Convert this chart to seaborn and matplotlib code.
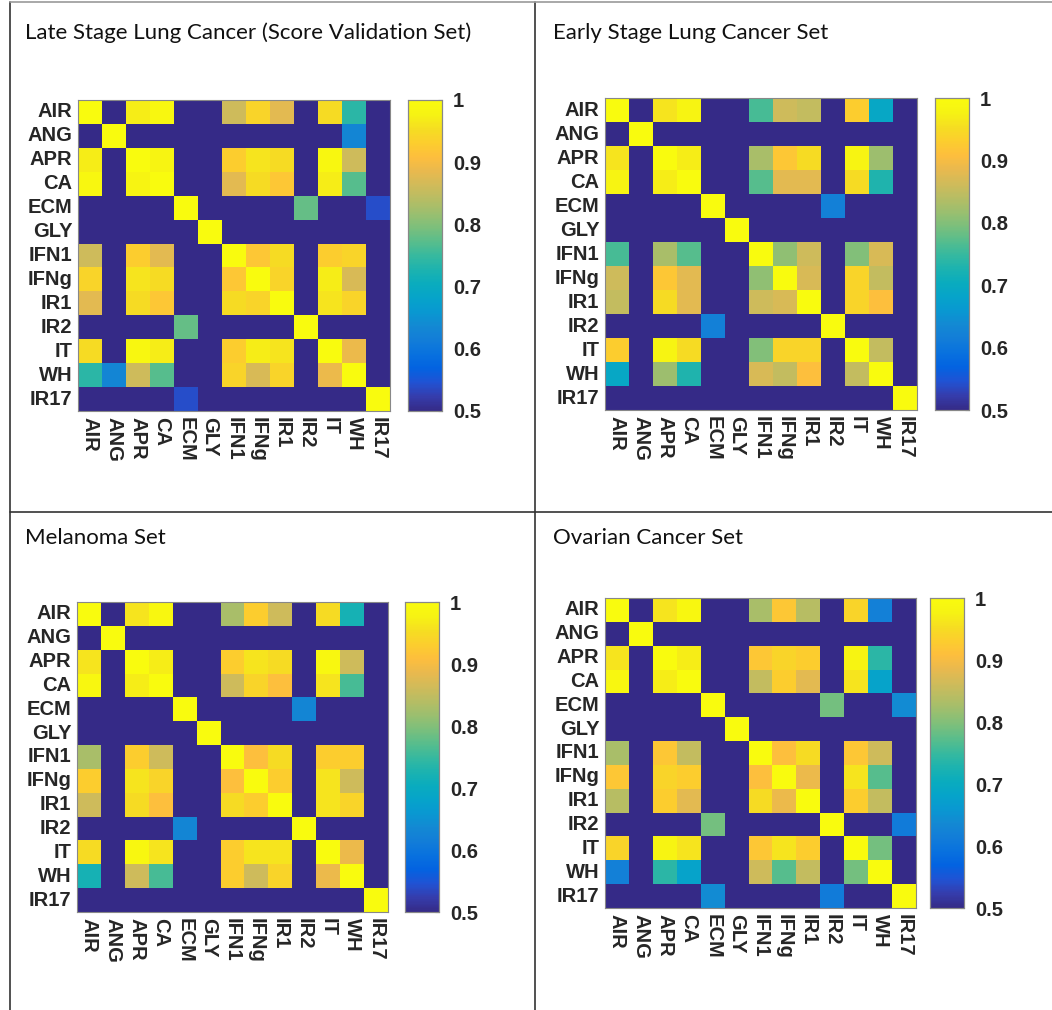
import numpy as np
import pandas as pd
import matplotlib
matplotlib.use('Agg')
import matplotlib.pyplot as plt
from matplotlib.colors import LinearSegmentedColormap
from matplotlib.lines import Line2D
import seaborn as sns

# ── Data ──
labels = ['AIR', 'ANG', 'APR', 'CA', 'ECM', 'GLY', 'IFN1', 'IFNg', 'IR1', 'IR2', 'IT', 'WH', 'IR17']

late_stage = [
    [1, .5, .97, .99, .5, .5, .86, .94, .88, .5, .95, .74, .5],
    [.5, 1, .5, .5, .5, .5, .5, .5, .5, .5, .5, .63, .5],
    [.97, .5, 1, .98, .5, .5, .93, .96, .95, .5, .99, .86, .5],
    [.99, .5, .98, 1, .5, .5, .88, .95, .92, .5, .97, .77, .5],
    [.5, .5, .5, .5, 1, .5, .5, .5, .5, .78, .5, .5, .54],
    [.5, .5, .5, .5, .5, 1, .5, .5, .5, .5, .5, .5, .5],
    [.86, .5, .93, .88, .5, .5, 1, .92, .95, .5, .93, .94, .5],
    [.94, .5, .96, .95, .5, .5, .92, 1, .94, .5, .97, .87, .5],
    [.88, .5, .95, .92, .5, .5, .95, .94, 1, .5, .96, .94, .5],
    [.5, .5, .5, .5, .78, .5, .5, .5, .5, 1, .5, .5, .5],
    [.95, .5, .99, .97, .5, .5, .93, .97, .96, .5, 1, .89, .5],
    [.74, .63, .86, .77, .5, .5, .94, .87, .94, .5, .89, 1, .5],
    [.5, .5, .5, .5, .54, .5, .5, .5, .5, .5, .5, .5, 1],
]

early_stage = [
    [1, .5, .96, .98, .5, .5, .76, .86, .85, .5, .93, .69, .5],
    [.5, 1, .5, .5, .5, .5, .5, .5, .5, .5, .5, .5, .5],
    [.96, .5, 1, .97, .5, .5, .83, .92, .95, .5, .98, .82, .5],
    [.98, .5, .97, 1, .5, .5, .77, .88, .88, .5, .95, .73, .5],
    [.5, .5, .5, .5, 1, .5, .5, .5, .5, .62, .5, .5, .5],
    [.5, .5, .5, .5, .5, 1, .5, .5, .5, .5, .5, .5, .5],
    [.76, .5, .83, .77, .5, .5, 1, .81, .86, .5, .80, .87, .5],
    [.86, .5, .92, .88, .5, .5, .81, 1, .87, .5, .94, .85, .5],
    [.85, .5, .95, .88, .5, .5, .86, .87, 1, .5, .94, .91, .5],
    [.5, .5, .5, .5, .62, .5, .5, .5, .5, 1, .5, .5, .5],
    [.93, .5, .98, .95, .5, .5, .80, .94, .94, .5, 1, .85, .5],
    [.69, .5, .82, .73, .5, .5, .87, .85, .91, .5, .85, 1, .5],
    [.5, .5, .5, .5, .5, .5, .5, .5, .5, .5, .5, .5, 1],
]

melanoma = [
    [1, .5, .96, .99, .5, .5, .83, .93, .86, .5, .95, .72, .5],
    [.5, 1, .5, .5, .5, .5, .5, .5, .5, .5, .5, .5, .5],
    [.96, .5, 1, .97, .5, .5, .93, .96, .95, .5, .99, .86, .5],
    [.99, .5, .97, 1, .5, .5, .86, .94, .91, .5, .96, .76, .5],
    [.5, .5, .5, .5, 1, .5, .5, .5, .5, .63, .5, .5, .5],
    [.5, .5, .5, .5, .5, 1, .5, .5, .5, .5, .5, .5, .5],
    [.83, .5, .93, .86, .5, .5, 1, .91, .95, .5, .93, .93, .5],
    [.93, .5, .96, .94, .5, .5, .91, 1, .93, .5, .96, .86, .5],
    [.86, .5, .95, .91, .5, .5, .95, .93, 1, .5, .96, .94, .5],
    [.5, .5, .5, .5, .63, .5, .5, .5, .5, 1, .5, .5, .5],
    [.95, .5, .99, .96, .5, .5, .93, .96, .96, .5, 1, .89, .5],
    [.72, .5, .86, .76, .5, .5, .93, .86, .94, .5, .89, 1, .5],
    [.5, .5, .5, .5, .5, .5, .5, .5, .5, .5, .5, .5, 1],
]

ovarian = [
    [1, .5, .96, .99, .5, .5, .83, .92, .84, .5, .94, .62, .5],
    [.5, 1, .5, .5, .5, .5, .5, .5, .5, .5, .5, .5, .5],
    [.96, .5, 1, .97, .5, .5, .92, .94, .93, .5, .98, .74, .5],
    [.99, .5, .97, 1, .5, .5, .85, .93, .88, .5, .96, .68, .5],
    [.5, .5, .5, .5, 1, .5, .5, .5, .5, .79, .5, .5, .64],
    [.5, .5, .5, .5, .5, 1, .5, .5, .5, .5, .5, .5, .5],
    [.83, .5, .92, .85, .5, .5, 1, .91, .95, .5, .92, .86, .5],
    [.92, .5, .94, .93, .5, .5, .91, 1, .89, .5, .96, .77, .5],
    [.84, .5, .93, .88, .5, .5, .95, .89, 1, .5, .93, .85, .5],
    [.5, .5, .5, .5, .79, .5, .5, .5, .5, 1, .5, .5, .61],
    [.94, .5, .98, .96, .5, .5, .92, .96, .93, .5, 1, .79, .5],
    [.62, .5, .74, .68, .5, .5, .86, .77, .85, .5, .79, 1, .5],
    [.5, .5, .5, .5, .64, .5, .5, .5, .5, .61, .5, .5, 1],
]

titles = ['Late Stage Lung Cancer (Score Validation Set)', 'Early Stage Lung Cancer Set',
          'Melanoma Set', 'Ovarian Cancer Set']
cbar_ticks = [0.5, 0.6, 0.7, 0.8, 0.9, 1.0]
cbar_labels = ['0.5', '0.6', '0.7', '0.8', '0.9', '1']

# parula-like colormap (MATLAB default)
parula = LinearSegmentedColormap.from_list('parula', [
    (0.2081, 0.1663, 0.5292), (0.2081, 0.2386, 0.6771), (0.1253, 0.3242, 0.8303),
    (0.0117, 0.3875, 0.8820), (0.0329, 0.4430, 0.8720), (0.0723, 0.4887, 0.8467),
    (0.0749, 0.5375, 0.8263), (0.0343, 0.5966, 0.8199), (0.0231, 0.6418, 0.7913),
    (0.0384, 0.6743, 0.7436), (0.1133, 0.7015, 0.6859), (0.2178, 0.7250, 0.6193),
    (0.3482, 0.7424, 0.5473), (0.4871, 0.7491, 0.4840), (0.6099, 0.7473, 0.4337),
    (0.7184, 0.7411, 0.3905), (0.8185, 0.7327, 0.3498), (0.9139, 0.7258, 0.3063),
    (0.9938, 0.7455, 0.2403), (0.9880, 0.8066, 0.1794), (0.9626, 0.8705, 0.1309),
    (0.9661, 0.9514, 0.0755), (0.9763, 0.9831, 0.0538)], N=256)

# ── Layout (pixel boxes: heatmap, colorbar, title position) ──
W, H = 1052, 1010
panels = [
    (late_stage, (78, 100, 390, 411), (408, 100, 442, 411), (25, 33)),
    (early_stage, (605, 98, 917, 410), (935, 98, 969, 410), (553, 33)),
    (melanoma, (77, 602, 388, 912), (405, 602, 439, 912), (25, 538)),
    (ovarian, (605, 598, 916, 908), (930, 598, 964, 908), (553, 538)),
]


def box(x0, y0, x1, y1):
    return [x0 / W, 1 - y1 / H, (x1 - x0) / W, (y1 - y0) / H]


sns.set_style('white')
plt.rcParams['font.family'] = ['Liberation Sans', 'DejaVu Sans']

fig = plt.figure(figsize=(W / 100, H / 100), dpi=100)

# table grid lines
grid_kw = dict(color='#333333', lw=1.2, transform=fig.transFigure)
fig.add_artist(Line2D([10 / W, 10 / W], [0, 1 - 2 / H], **grid_kw))
fig.add_artist(Line2D([535 / W, 535 / W], [0, 1 - 2 / H], **grid_kw))
fig.add_artist(Line2D([10 / W, 1], [1 - 2 / H, 1 - 2 / H], **dict(grid_kw, color='#999999')))
fig.add_artist(Line2D([10 / W, 1], [1 - 512 / H, 1 - 512 / H], **grid_kw))

for (vals, hm_box, cb_box, (tx, ty)), title in zip(panels, titles):
    df = pd.DataFrame(vals, index=labels, columns=labels)
    ax = fig.add_axes(box(*hm_box))
    cax = fig.add_axes(box(*cb_box))
    sns.heatmap(df, ax=ax, cbar_ax=cax, cmap=parula, vmin=0.5, vmax=1.0,
                square=False, xticklabels=True, yticklabels=True)
    ax.tick_params(axis='both', length=0, pad=4)
    ax.set_xticklabels(labels, rotation=-90, fontsize=14.5, fontweight='bold', color='#262626')
    ax.set_yticklabels(labels, rotation=0, fontsize=14.5, fontweight='bold', color='#262626')
    for s in ax.spines.values():
        s.set_visible(True)
        s.set_color('#888888')
        s.set_linewidth(0.8)

    cax.set_yticks(cbar_ticks)
    cax.set_yticklabels(cbar_labels, fontsize=14.5, fontweight='bold', color='#262626')
    cax.tick_params(axis='y', direction='in', length=3, pad=8, color='#555555')
    for s in cax.spines.values():
        s.set_visible(True)
        s.set_color('#888888')
        s.set_linewidth(0.8)

    fig.text(tx / W, 1 - ty / H, title, fontsize=16, family=['Lato', 'DejaVu Sans'],
             color='#111111', va='center', ha='left')

fig.savefig('out.png', dpi=100)
